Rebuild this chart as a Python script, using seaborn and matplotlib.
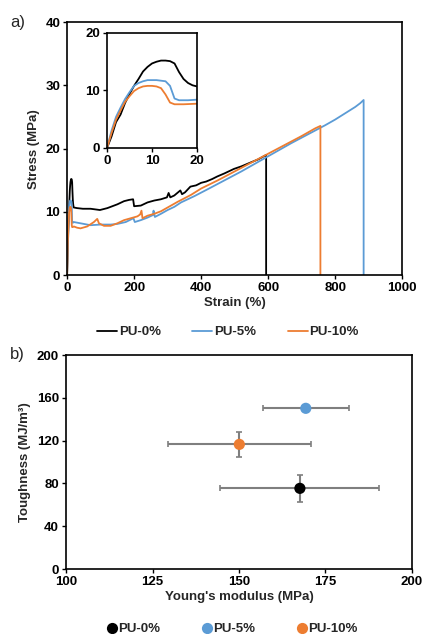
import numpy as np
import pandas as pd
import matplotlib
matplotlib.use("Agg")
import matplotlib.pyplot as plt
import seaborn as sns

# Stress-strain curves (strain in %, stress in MPa)
strain_0 = [0, 1, 2, 3, 4, 5, 6, 7, 8, 9, 10, 11, 12, 13, 14, 15, 16, 17, 18, 19, 20,
            30, 47, 70, 98, 120, 150, 170, 185, 197, 200, 220, 240, 260, 280, 298,
            303, 308, 320, 338, 343, 352, 368, 385, 400, 415, 433, 448, 470, 498,
            520, 547, 570, 594, 594]
stress_0 = [0, 2.0, 4.5, 5.8, 7.8, 9.4, 10.8, 12.0, 13.3, 14.1, 14.7, 15.0, 15.2, 15.2,
            15.1, 14.7, 13.2, 12.0, 11.3, 10.9, 10.7,
            10.6, 10.5, 10.5, 10.3, 10.6, 11.2, 11.7, 11.9, 12.0, 10.9, 11.0, 11.5,
            11.8, 12.0, 12.3, 13.0, 12.3, 12.6, 13.4, 12.8, 13.1, 14.0, 14.2, 14.6,
            14.8, 15.2, 15.6, 16.1, 16.8, 17.2, 17.8, 18.3, 19.0, 0]

strain_5 = [0, 1, 2, 3, 4, 5, 6, 7, 8, 9, 10, 11, 12, 13, 14, 15, 16, 17, 18, 20,
            30, 50, 70, 100, 130, 150, 175, 198, 202, 220, 240, 256, 258, 262, 280,
            300, 320, 340, 380, 420, 470, 520, 570, 620, 670, 720, 770, 800, 830,
            860, 875, 885, 885]
stress_5 = [0, 3.0, 5.4, 7.0, 8.5, 9.7, 10.8, 11.3, 11.6, 11.8, 11.8, 11.8, 11.7, 11.6,
            10.8, 8.6, 8.3, 8.3, 8.3, 8.4,
            8.3, 8.1, 7.9, 8.0, 8.0, 8.1, 8.4, 9.0, 8.4, 8.7, 9.1, 9.5, 10.2, 9.2,
            9.7, 10.3, 10.8, 11.5, 12.5, 13.6, 15.0, 16.4, 17.9, 19.4, 20.9, 22.3,
            23.7, 24.6, 25.6, 26.6, 27.2, 27.7, 0]

strain_10 = [0, 1, 2, 3, 4, 5, 6, 7, 8, 9, 10, 11, 12, 13, 14, 15, 17, 20,
             30, 40, 60, 80, 90, 95, 110, 130, 150, 170, 190, 210, 218, 222, 225,
             240, 260, 280, 300, 330, 370, 400, 450, 500, 550, 600, 650, 700, 740,
             756, 756]
stress_10 = [0, 2.6, 4.9, 6.5, 8.0, 9.0, 9.9, 10.4, 10.7, 10.8, 10.8, 10.7, 10.4, 9.3,
             7.9, 7.6, 7.6, 7.7,
             7.5, 7.4, 7.7, 8.4, 8.9, 8.2, 7.8, 7.8, 8.2, 8.7, 9.0, 9.3, 9.6, 10.2,
             9.0, 9.4, 9.7, 10.1, 10.7, 11.6, 12.7, 13.7, 15.0, 16.4, 17.8, 19.2,
             20.6, 22.0, 23.2, 23.6, 0]

# Young's modulus vs toughness
samples = ["PU-0%", "PU-5%", "PU-10%"]
modulus = [167.6, 169.3, 150.1]
modulus_err = [23.0, 12.5, 20.7]
toughness = [75.4, 150.2, 116.5]
toughness_err = [12.5, 0.0, 11.7]

colors = ["#000000", "#5B9BD5", "#ED7D31"]

sns.set_theme(style="ticks")
plt.rcParams["font.family"] = ["Liberation Sans", "DejaVu Sans"]
plt.rcParams["font.weight"] = "bold"
plt.rcParams["axes.labelweight"] = "bold"
plt.rcParams["axes.edgecolor"] = "black"
plt.rcParams["axes.linewidth"] = 1.2
plt.rcParams["xtick.color"] = "black"
plt.rcParams["ytick.color"] = "black"

curves = pd.concat([
    pd.DataFrame({"strain": strain_0, "stress": stress_0, "sample": samples[0]}),
    pd.DataFrame({"strain": strain_5, "stress": stress_5, "sample": samples[1]}),
    pd.DataFrame({"strain": strain_10, "stress": stress_10, "sample": samples[2]}),
], ignore_index=True)

fig = plt.figure(figsize=(4.22, 6.34), dpi=100)
ax1 = fig.add_axes([0.159, 0.566, 0.794, 0.399])
ins = fig.add_axes([0.2536, 0.7666, 0.2133, 0.1814])
ax2 = fig.add_axes([0.1564, 0.1025, 0.8199, 0.3375])

fs = 9.5

# a) stress-strain
sns.lineplot(data=curves, x="strain", y="stress", hue="sample", palette=colors,
             hue_order=samples, sort=False, estimator=None, linewidth=1.3, ax=ax1)
handles, labels = ax1.get_legend_handles_labels()
ax1.get_legend().remove()
ax1.set_xlim(0, 1000)
ax1.set_ylim(0, 40)
ax1.set_xticks([0, 200, 400, 600, 800, 1000])
ax1.set_yticks([0, 10, 20, 30, 40])
ax1.set_xlabel("Strain (%)", fontsize=fs, labelpad=2)
ax1.set_ylabel("Stress (MPa)", fontsize=fs, labelpad=4)

sns.lineplot(data=curves, x="strain", y="stress", hue="sample", palette=colors,
             hue_order=samples, sort=False, estimator=None, linewidth=1.3, ax=ins,
             legend=False)
ins.set_xlim(0, 20)
ins.set_ylim(0, 20)
ins.set_xticks([0, 10, 20])
ins.set_yticks([0, 10, 20])
ins.set_xlabel("")
ins.set_ylabel("")

# b) modulus vs toughness
ax2.errorbar(modulus, toughness, xerr=modulus_err, yerr=toughness_err, fmt="none",
             ecolor="#7f7f7f", elinewidth=1.5, capsize=2.5, capthick=1.2, zorder=2)
pts = pd.DataFrame({"modulus": modulus, "toughness": toughness, "sample": samples})
sns.scatterplot(data=pts, x="modulus", y="toughness", hue="sample", palette=colors,
                hue_order=samples, s=65, edgecolor="none", ax=ax2, zorder=3)
h2, l2 = ax2.get_legend_handles_labels()
ax2.get_legend().remove()
ax2.set_xlim(100, 200)
ax2.set_ylim(0, 200)
ax2.set_xticks([100, 125, 150, 175, 200])
ax2.set_yticks([0, 40, 80, 120, 160, 200])
ax2.set_xlabel("Young's modulus (MPa)", fontsize=fs, labelpad=2)
ax2.set_ylabel("Toughness (MJ/m³)", fontsize=fs, labelpad=4)

for a in (ax1, ins, ax2):
    a.tick_params(labelsize=fs, length=3, width=1, direction="out", pad=2)
    for lbl in a.get_xticklabels() + a.get_yticklabels():
        lbl.set_fontweight("bold")
    for sp in a.spines.values():
        sp.set_visible(True)
        sp.set_color("black")

fig.legend(handles, labels, loc="center", bbox_to_anchor=(0.54, 1 - 332 / 634),
           ncol=3, frameon=False, fontsize=fs, handlelength=1.5, handletextpad=0.15,
           columnspacing=2.4)
fig.legend(h2, l2, loc="center", bbox_to_anchor=(0.551, 1 - 629 / 634),
           ncol=3, frameon=False, fontsize=fs, handlelength=0.7, handletextpad=0.1,
           columnspacing=3.2, markerscale=1.0)

fig.text(10 / 422, 1 - 22 / 634, "a)", fontsize=12, fontweight="normal", va="center")
fig.text(10 / 422, 1 - 355 / 634, "b)", fontsize=12, fontweight="normal", va="center")

fig.savefig("out.png", dpi=100)
